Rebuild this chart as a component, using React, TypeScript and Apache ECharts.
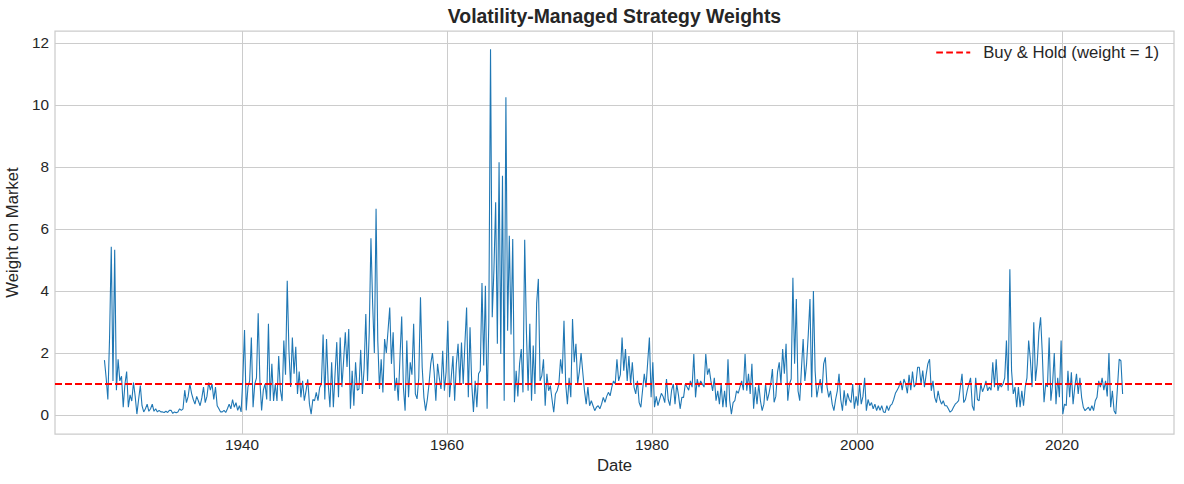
import React, { useEffect, useRef } from "react";
import * as echarts from "echarts";

// Weight on market, six readings per year (every other month).
// The first row (1926) starts in August.
const w1920s = [
  [1.77, 1.2, 0.5],
  [2.5, 5.43, 1.1, 5.33, 0.8, 1.8],
  [1.1, 1.25, 0.25, 1.0, 1.4, 0.25],
  [0.65, 0.45, 1.05, 0.6, 0.03, 0.5],
];
const w1930s = [
  [0.95, 0.3, 0.1, 0.2, 0.35, 0.12],
  [0.2, 0.35, 0.12, 0.2, 0.1, 0.15],
  [0.1, 0.1, 0.08, 0.12, 0.08, 0.15],
  [0.15, 0.05, 0.1, 0.07, 0.1, 0.2],
  [0.15, 0.2, 0.8, 0.4, 0.6, 1.0],
  [0.7, 0.5, 0.35, 0.6, 0.45, 0.3],
  [0.55, 0.9, 0.4, 0.6, 1.05, 0.8],
  [1.0, 0.5, 0.9, 0.3, 0.2, 0.1],
  [0.1, 0.15, 0.08, 0.2, 0.35, 0.2],
  [0.5, 0.25, 0.4, 0.15, 0.3, 0.1],
];
const w1940s = [
  [1.15, 2.74, 0.15, 0.9, 1.1, 2.5],
  [0.25, 1.0, 1.2, 3.28, 1.1, 0.15],
  [0.8, 1.0, 0.5, 2.94, 0.45, 1.65],
  [0.45, 1.0, 0.45, 1.9, 0.8, 0.45],
  [2.4, 1.3, 4.33, 2.07, 0.9, 2.5],
  [1.33, 2.2, 0.68, 1.4, 0.57, 1.1],
  [0.46, 0.78, 1.15, 0.35, 0.03, 0.5],
  [0.46, 0.73, 0.46, 0.89, 1.0, 2.6],
  [0.5, 2.45, 1.0, 0.25, 1.7, 0.25],
  [1.33, 2.35, 0.57, 2.5, 0.9, 1.75],
];
const w1950s = [
  [2.67, 1.55, 2.77, 0.2, 1.43, 0.3],
  [1.7, 0.8, 0.84, 2.1, 0.68, 1.5],
  [3.26, 1.1, 2.67, 5.7, 3.57, 2.0],
  [6.65, 2.4, 0.84, 1.8, 0.73, 2.45],
  [2.0, 2.72, 3.47, 1.65, 2.67, 0.78],
  [1.2, 0.46, 1.86, 3.18, 0.9, 0.14],
  [2.4, 0.57, 1.7, 1.3, 2.94, 0.68],
  [0.52, 1.2, 3.8, 1.54, 0.57, 0.14],
  [0.5, 1.0, 1.65, 2.0, 1.38, 0.46],
  [1.65, 1.2, 0.84, 2.07, 0.78, 1.4],
];
const w1960s = [
  [3.04, 0.57, 1.2, 1.9, 0.46, 1.65],
  [2.3, 1.0, 2.34, 1.0, 2.3, 3.47],
  [0.57, 2.83, 1.0, 0.1, 1.1, 0.25],
  [1.33, 1.43, 4.26, 1.6, 4.17, 0.2],
  [3.0, 11.8, 3.15, 4.7, 6.86, 2.3],
  [8.15, 1.97, 7.72, 0.46, 10.25, 2.72],
  [5.78, 2.6, 5.68, 0.41, 1.43, 0.6],
  [1.65, 2.13, 0.73, 5.65, 2.72, 0.78],
  [2.94, 0.46, 2.24, 0.68, 3.6, 4.39],
  [1.1, 1.26, 1.8, 0.3, 1.33, 0.78],
];
const w1970s = [
  [0.95, 0.5, 0.09, 0.68, 0.78, 1.0],
  [1.8, 1.33, 3.04, 1.0, 0.35, 1.2],
  [0.57, 3.1, 1.7, 2.3, 1.0, 1.4],
  [2.0, 1.38, 0.78, 0.35, 0.9, 0.3],
  [0.46, 0.3, 0.14, 0.25, 0.3, 0.2],
  [0.35, 0.57, 0.41, 0.6, 0.73, 0.62],
  [0.9, 1.1, 1.0, 1.8, 1.1, 1.3],
  [2.5, 1.43, 2.13, 1.1, 1.9, 1.0],
  [1.7, 0.9, 0.68, 1.1, 0.4, 0.25],
  [0.8, 1.33, 0.9, 1.7, 2.5, 0.57],
];
const w1980s = [
  [1.7, 0.25, 0.6, 0.3, 0.5, 0.7],
  [0.6, 0.4, 1.16, 0.5, 0.3, 0.8],
  [1.0, 0.35, 1.0, 0.65, 0.2, 0.57],
  [0.57, 1.0, 0.9, 0.8, 1.1, 0.9],
  [1.97, 0.57, 1.16, 0.9, 1.1, 1.0],
  [0.9, 1.97, 1.3, 1.5, 1.1, 0.78],
  [1.2, 0.46, 0.78, 0.35, 1.0, 0.25],
  [0.78, 0.25, 1.8, 0.46, 0.03, 0.4],
  [0.46, 0.78, 0.7, 0.9, 1.1, 0.8],
  [1.97, 0.78, 1.33, 0.68, 1.65, 0.2],
];
const w1990s = [
  [0.9, 0.35, 1.0, 0.46, 0.14, 0.35],
  [1.0, 0.46, 0.7, 1.0, 1.48, 0.41],
  [0.6, 1.38, 1.7, 1.0, 2.13, 1.33],
  [2.3, 0.46, 1.0, 1.16, 4.43, 1.65],
  [3.74, 0.78, 0.46, 1.5, 2.45, 1.1],
  [1.65, 2.6, 3.74, 0.57, 4.0, 1.43],
  [0.57, 0.9, 1.16, 0.7, 1.65, 1.86],
  [0.9, 0.57, 0.78, 0.35, 0.14, 0.5],
  [0.78, 1.33, 0.5, 0.14, 0.8, 0.3],
  [0.7, 0.5, 0.4, 1.0, 0.2, 0.6],
];
const w2000s = [
  [0.3, 1.0, 0.35, 0.6, 1.2, 0.14],
  [0.5, 0.3, 0.4, 0.2, 0.35, 0.14],
  [0.3, 0.15, 0.3, 0.1, 0.08, 0.3],
  [0.14, 0.3, 0.35, 0.5, 0.7, 0.8],
  [0.9, 1.1, 0.8, 1.16, 1.0, 0.7],
  [1.3, 0.8, 1.4, 0.9, 1.0, 1.54],
  [1.54, 1.0, 1.43, 0.9, 1.3, 1.65],
  [1.8, 0.78, 1.1, 0.57, 0.4, 0.78],
  [0.5, 0.35, 0.46, 0.3, 0.3, 0.2],
  [0.09, 0.14, 0.25, 0.35, 0.4, 0.46],
];
const w2010s = [
  [0.9, 1.33, 0.4, 0.5, 0.78, 1.0],
  [1.2, 0.3, 0.14, 1.2, 0.5, 0.46],
  [1.0, 0.75, 0.9, 1.1, 0.78, 0.9],
  [0.8, 1.7, 0.9, 1.8, 0.78, 1.0],
  [0.9, 1.0, 1.2, 2.4, 0.78, 4.7],
  [1.43, 0.68, 0.9, 0.25, 0.9, 0.25],
  [0.78, 0.3, 0.9, 1.2, 2.4, 1.8],
  [0.9, 2.99, 1.1, 1.65, 2.67, 3.15],
  [1.97, 0.41, 1.0, 0.9, 2.5, 0.46],
  [1.0, 2.0, 0.35, 1.2, 0.57, 2.4],
];
const w2020s = [
  [0.03, 0.35, 0.3, 1.43, 0.57, 1.38],
  [0.35, 0.9, 1.33, 0.68, 1.2, 0.57],
  [0.25, 0.14, 0.2, 0.25, 0.14, 0.3],
  [0.14, 0.46, 0.57, 1.1, 0.9, 1.2],
  [0.8, 1.1, 0.6, 2.0, 0.25, 0.78],
  [0.14, 0.03, 0.9, 1.8, 1.75, 0.68],
];

const FIRST_YEAR = 1926;
const xTicks = [1940, 1960, 1980, 2000, 2020];
const yTicks = [0, 2, 4, 6, 8, 10, 12];
const BUY_HOLD = 1;
const X_MIN = 1921.76;
const X_MAX = 2030.93;
const Y_MIN = -0.613;
const Y_MAX = 12.387;

const STRAT_NAME = "Strategy weight";
const BH_NAME = "Buy & Hold (weight = 1)";

function buildPoints(): number[][] {
  const decades = [w1920s, w1930s, w1940s, w1950s, w1960s, w1970s, w1980s, w1990s, w2000s, w2010s, w2020s];
  const pts: number[][] = [];
  let year = FIRST_YEAR;
  decades.forEach((dec) =>
    dec.forEach((row) => {
      const offset = 6 - row.length;
      row.forEach((v, k) => pts.push([year + (2 * (k + offset) + 1) / 12, v]));
      year += 1;
    })
  );
  return pts;
}

const FONT = "'Liberation Sans', Arial, sans-serif";
const TXT = "#262626";
const DASH_ICON =
  "path://M0,0h6.7v2H0z M10,0h6.7v2H10z M20,0h6.7v2H20z M30,0h4v2H30z";

export default function App() {
  const ref = useRef<HTMLDivElement>(null);
  useEffect(() => {
    document.body.style.margin = "0";
    if (!ref.current) return;
    const chart = echarts.init(ref.current, null, { renderer: "svg" });
    const pts = buildPoints();
    chart.setOption({
      animation: false,
      backgroundColor: "#ffffff",
      textStyle: { fontFamily: FONT },
      title: {
        text: "Volatility-Managed Strategy Weights",
        left: 614.5,
        textAlign: "center",
        top: 6,
        padding: 0,
        textStyle: { fontFamily: FONT, fontSize: 19.4, fontWeight: "bold", color: TXT },
      },
      legend: {
        data: [{ name: BH_NAME, icon: DASH_ICON }],
        right: 25,
        top: 44,
        padding: 0,
        itemWidth: 34,
        itemHeight: 2,
        itemStyle: { color: "#ff0000", borderWidth: 0 },
        textStyle: { fontFamily: FONT, fontSize: 16.7, color: TXT, padding: [0, 0, 0, 8] },
      },
      grid: {
        left: 55,
        top: 31,
        width: 1119,
        height: 403,
        containLabel: false,
        outerBoundsMode: "none",
        show: true,
        borderColor: "#cccccc",
        borderWidth: 1.25,
        backgroundColor: "transparent",
      },
      xAxis: {
        type: "value",
        min: X_MIN,
        max: X_MAX,
        name: "Date",
        nameLocation: "middle",
        nameGap: 21,
        nameTextStyle: { fontFamily: FONT, fontSize: 16.7, color: TXT },
        axisLine: { show: false },
        axisTick: { show: false, customValues: xTicks },
        axisLabel: {
          customValues: xTicks,
          formatter: (v: number) => String(Math.round(v)),
          fontFamily: FONT,
          fontSize: 15.3,
          color: TXT,
          margin: 3,
        },
        splitLine: { show: true, lineStyle: { color: "#cccccc", width: 1 } },
      },
      yAxis: {
        type: "value",
        min: Y_MIN,
        max: Y_MAX,
        name: "Weight on Market",
        nameLocation: "middle",
        nameGap: 27,
        nameTextStyle: { fontFamily: FONT, fontSize: 16.7, color: TXT },
        axisLine: { show: false },
        axisTick: { show: false, customValues: yTicks },
        axisLabel: {
          customValues: yTicks,
          formatter: (v: number) => String(Math.round(v)),
          fontFamily: FONT,
          fontSize: 15.3,
          color: TXT,
          margin: 6,
        },
        splitLine: { show: true, lineStyle: { color: "#cccccc", width: 1 } },
      },
      series: [
        {
          name: STRAT_NAME,
          type: "line",
          data: pts,
          symbol: "none",
          lineStyle: { color: "#1f77b4", width: 1.1 },
          itemStyle: { color: "#1f77b4" },
          z: 2,
        },
        {
          name: BH_NAME,
          type: "line",
          data: [
            [X_MIN, BUY_HOLD],
            [X_MAX, BUY_HOLD],
          ],
          symbol: "none",
          lineStyle: { color: "#ff0000", width: 1.8, type: [7, 3] },
          itemStyle: { color: "#ff0000" },
          z: 3,
        },
      ],
    });
    return () => chart.dispose();
  }, []);
  return <div ref={ref} style={{ width: 1184, height: 484 }} />;
}
